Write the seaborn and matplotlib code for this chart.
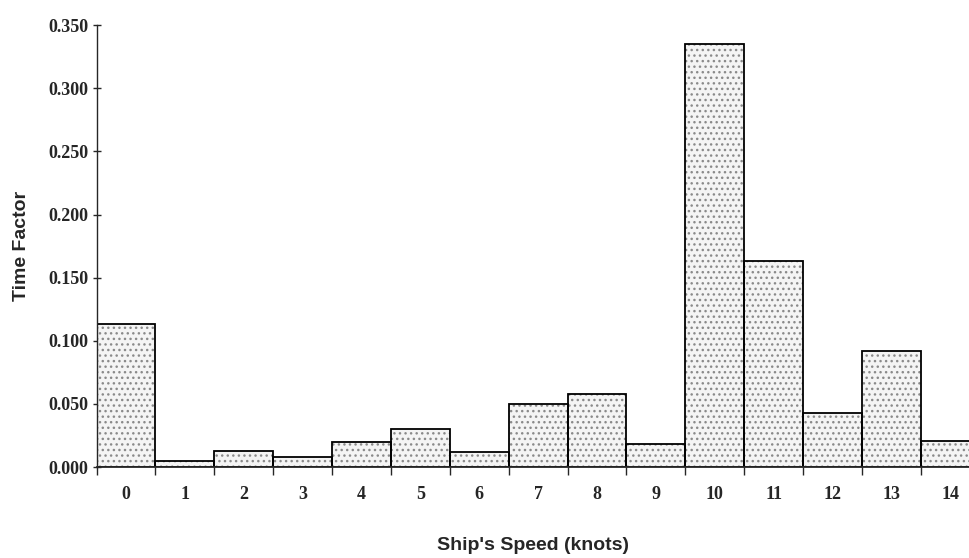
import matplotlib
matplotlib.use("Agg")
import matplotlib.pyplot as plt
import seaborn as sns
from matplotlib.ticker import FixedLocator

# Data
speeds = [0, 1, 2, 3, 4, 5, 6, 7, 8, 9, 10, 11, 12, 13, 14]
time_factor = [0.113, 0.005, 0.013, 0.008, 0.020, 0.030, 0.012, 0.050,
               0.058, 0.018, 0.335, 0.163, 0.043, 0.092, 0.021]
y_ticks = [0.0, 0.05, 0.10, 0.15, 0.20, 0.25, 0.30, 0.35]

sns.set_style("ticks")

fig = plt.figure(figsize=(9.69, 5.58), dpi=100)
ax = fig.add_axes([0.0997, 0.163, 0.9003, 0.792])

# dotted fill
sns.barplot(x=speeds, y=time_factor, width=1.0, color="#f4f4f4",
            edgecolor="#8a8a8a", linewidth=0, hatch="...", ax=ax)
# black outlines on top
sns.barplot(x=speeds, y=time_factor, width=1.0, fill=False,
            edgecolor="black", linewidth=1.3, ax=ax)

ax.set_xlim(-0.5, 14.32)
ax.set_ylim(0, 0.35)

ax.set_yticks(y_ticks)
ax.set_yticklabels([f"{v:.3f}" for v in y_ticks])
ax.xaxis.set_minor_locator(FixedLocator([i - 0.5 for i in speeds]))
ax.tick_params(axis="x", which="major", length=0, pad=14)
ax.tick_params(axis="x", which="minor", length=6, width=1.0, direction="out")
ax.tick_params(axis="y", which="major", length=6, width=1.0, direction="inout", pad=3)

for lab in ax.get_xticklabels() + ax.get_yticklabels():
    lab.set_fontfamily("Liberation Serif")
    lab.set_fontweight("bold")
    lab.set_fontsize(13)

ax.set_xlabel("Ship's Speed (knots)", fontfamily="Liberation Sans",
              fontweight="heavy", fontsize=14, labelpad=24)
ax.set_ylabel("Time Factor", fontfamily="Liberation Sans",
              fontweight="heavy", fontsize=14, labelpad=13)

sns.despine(ax=ax, top=True, right=True)
ax.spines["left"].set_linewidth(1.0)
ax.spines["bottom"].set_linewidth(1.3)

fig.savefig("out.png", dpi=100)
